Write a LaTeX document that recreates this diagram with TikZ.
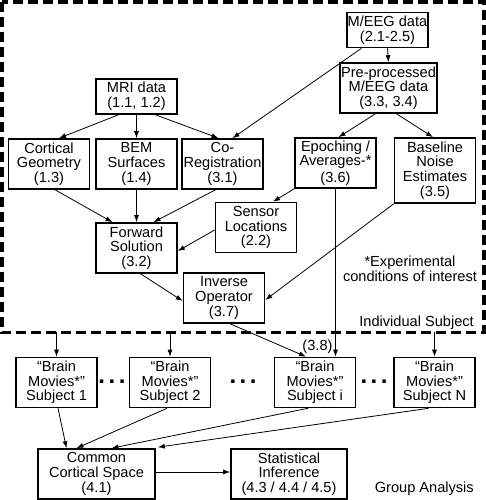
\documentclass[tikz,border=0pt]{standalone}
\usepackage{fontspec}
\setmainfont{Liberation Sans}
\usetikzlibrary{arrows.meta, positioning, calc}

\begin{document}
\begin{tikzpicture}[
  x=1pt,y=1pt,
  font=\fontsize{14.6}{14.6}\selectfont,
  stepbox/.style={
    rectangle, draw=black, line width=1.6pt,
    minimum width=81pt, minimum height=50pt,
    align=center, inner sep=1pt
  },
  databox/.style={stepbox, minimum height=35pt},
  arrow/.style={-{Latex[length=7pt,width=5pt]}, line width=0.8pt},
  groupbox/.style={draw=black, line width=3.5pt, dash pattern=on 10pt off 5pt},
  note/.style={inner sep=0pt, align=center},
  dots/.style={inner sep=0pt, font=\fontsize{24}{24}\selectfont\bfseries}
]
\useasboundingbox (0,0) rectangle (486,500);

% ---- Individual subject frame ----
\draw[groupbox] (1.8,498.2) rectangle (484,167.5);
\coordinate (frameBottom) at (1.8,167.5);

% ---- Data sources ----
\node[databox] (mri) at (136.5,403.5) {MRI data\\(1.1, 1.2)};
\node[databox] (meeg) at (387.5,470) {M/EEG data\\(2.1-2.5)};
\node[stepbox, minimum width=95pt] (prep) at (388.5,412) {Pre-processed\\M/EEG data\\(3.3, 3.4)};

% ---- Processing steps ----
\node[stepbox] (cort) at (49,336) {Cortical\\Geometry\\(1.3)};
\node[stepbox] (bem) at (136.5,336) {BEM\\Surfaces\\(1.4)};
\node[stepbox] (coreg) at (222.5,336) {Co-\\Registration\\(3.1)};
\node[stepbox] (epoch) at (335.5,337) {Epoching /\\Averages-*\\[2pt](3.6)};
\node[stepbox, minimum height=65pt] (base) at (435,329.5) {Baseline\\Noise\\Estimates\\(3.5)};
\node[stepbox] (sensor) at (256,272.5) {Sensor\\Locations\\(2.2)};
\node[stepbox] (fwd) at (136.5,252) {Forward\\Solution\\(3.2)};
\node[stepbox] (inv) at (224,202) {Inverse\\Operator\\(3.7)};

\node[note] (expnote) at (410,231.5) {*Experimental\\conditions of interest};
\node[note, anchor=east] (indiv) at (474,177.3) {Individual Subject};

% ---- Brain movies per subject ----
\node[stepbox] (s1) at (56.5,117.5) {“Brain\\Movies*”\\Subject 1};
\node[stepbox] (s2) at (170,117.5) {“Brain\\Movies*”\\Subject 2};
\node[stepbox] (si) at (315,117.5) {“Brain\\Movies*”\\Subject i};
\node[stepbox] (sN) at (434.5,117.5) {“Brain\\Movies*”\\Subject N};
\node[dots] (dotsA) at (112,118) {.\hspace{3.5pt}.\hspace{3.5pt}.};
\node[dots] (dotsB) at (243,118) {.\hspace{3.5pt}.\hspace{3.5pt}.};
\node[dots] (dotsC) at (374,118) {.\hspace{3.5pt}.\hspace{3.5pt}.};
\node[note] (lbl38) at (317.5,153) {(3.8)};

% ---- Group level ----
\node[stepbox, minimum width=117pt] (common) at (96.5,26) {Common\\Cortical Space\\(4.1)};
\node[stepbox, minimum width=116pt] (stat) at (289,26) {Statistical\\Inference\\(4.3 / 4.4 / 4.5)};
\node[note, anchor=east] (group) at (474,11) {Group Analysis};

% ---- Connectors inside the frame ----
\draw[arrow] ($(mri.south)+(-18,0)$) -- ($(cort.north)+(10,0)$);
\draw[arrow] (mri.south) -- (bem.north);
\draw[arrow] ($(mri.south)+(19,0)$) -- ($(coreg.north)+(-4,0)$);
\draw[arrow] ($(meeg.south)+(-26,0)$) -- ($(coreg.north)+(10,0)$);
\draw[arrow] (meeg.south) -- (prep.north);
\draw[arrow] ($(prep.south)+(-13,0)$) -- ($(epoch.north)+(3,0)$);
\draw[arrow] ($(prep.south)+(8,0)$) -- ($(base.north)+(-2,0)$);
\draw[arrow] ($(cort.south)+(6,0)$) -- ($(fwd.north)+(-24,0)$);
\draw[arrow] (bem.south) -- (fwd.north);
\draw[arrow] ($(coreg.south)+(-7,0)$) -- ($(fwd.north)+(17,0)$);
\draw[arrow] (epoch.south west) -- ($(sensor.north)+(17,0)$);
\draw[arrow] ($(sensor.west)+(0,-2.5)$) -- ($(fwd.east)+(0,-3)$);
\draw[arrow] ($(fwd.south)+(4,0)$) -- ($(inv.west)+(0,-3)$);
\draw[arrow] (base.south west) -- ($(inv.east)+(0,-2)$);

% ---- Into the subject movies ----
\draw[arrow] (epoch.south) -- (epoch.south |- si.north);
\draw[arrow] ($(inv.south)+(6,0)$) -- ($(si.north)+(-9,0)$);
\foreach \s in {s1,s2,sN}{
  \draw[arrow] (\s.north |- frameBottom) -- (\s.north);
}

% ---- Group analysis ----
\draw[arrow] ($(s1.south)+(1.5,0)$) -- ($(common.north)+(-30,0)$);
\draw[arrow] ($(s2.south)+(-3,0)$) -- ($(common.north)+(-20,0)$);
\draw[arrow] ($(si.south)+(-7,0)$) -- ($(common.north)+(15,0)$);
\draw[arrow] ($(sN.south)+(-6,0)$) -- ($(common.north east)+(2,1)$);
\draw[arrow] ($(common.east)+(0,2)$) -- ($(stat.west)+(0,2)$);

\end{tikzpicture}
\end{document}
